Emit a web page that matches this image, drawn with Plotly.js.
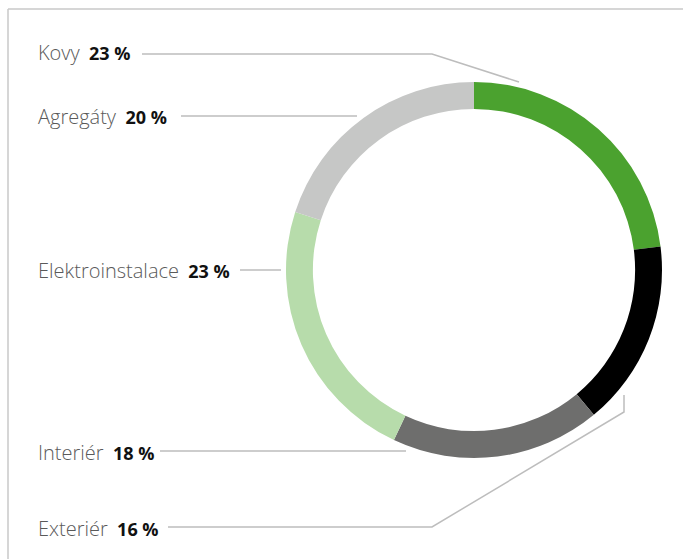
<!DOCTYPE html>
<html>
<head>
<meta charset="utf-8">
<script src="https://cdn.plot.ly/plotly-3.0.1.min.js"></script>
<style>html,body{margin:0;padding:0;background:#fff;}#chart{width:683px;height:559px;}</style>
</head>
<body>
<div id="chart"></div>
<script>
// Data (clockwise from 12 o'clock)
const categories = ["Kovy", "Exteriér", "Interiér", "Elektroinstalace", "Agregáty"];
const shares = [23, 16, 18, 23, 20];
const colors = ["#4ba22f", "#000000", "#6e6e6d", "#b7dcab", "#c6c7c6"];

// Label order top-to-bottom on the left side
const labelOrder = ["Kovy", "Agregáty", "Elektroinstalace", "Interiér", "Exteriér"];

const W = 683, H = 559;
const px = (x) => x / W;
const py = (y) => 1 - y / H;

// label vertical positions (px) and leader line paths (px)
const labelY = [53, 116, 270, 452, 528];
const leaders = [
  [[142, 54], [432, 54], [519, 82]],
  [[181, 116], [357, 116]],
  [[240, 270], [281, 270]],
  [[160, 451], [406, 451]],
  [[168, 527], [432, 527], [624, 412], [624, 395]]
];

const shapes = [];
// frame
shapes.push({type: 'line', xref: 'paper', yref: 'paper', x0: px(8), y0: py(9), x1: px(683), y1: py(9), line: {color: '#c8c8c8', width: 1.5}});
shapes.push({type: 'line', xref: 'paper', yref: 'paper', x0: px(8), y0: py(9), x1: px(8), y1: py(559), line: {color: '#c8c8c8', width: 1.5}});
leaders.forEach(path => {
  const d = path.map((p, i) => (i ? 'L' : 'M') + px(p[0]) + ',' + py(p[1])).join(' ');
  shapes.push({type: 'path', xref: 'paper', yref: 'paper', path: d, line: {color: '#bdbdbd', width: 1.5}});
});

const annotations = labelOrder.map((name, i) => {
  const v = shares[categories.indexOf(name)];
  return {
    xref: 'paper', yref: 'paper', x: px(36), y: py(labelY[i]),
    xanchor: 'left', yanchor: 'middle', showarrow: false,
    text: '<span style="color:#5a5a5a;font-weight:300;font-size:20px">' + name + '</span>&nbsp;&nbsp;<b>' + v + ' %</b>',
    font: {family: 'Open Sans, sans-serif', size: 18, color: '#111'}
  };
});

const trace = {
  type: 'pie',
  labels: categories,
  values: shares,
  sort: false,
  direction: 'clockwise',
  rotation: 0,
  hole: 0.857,
  textinfo: 'none',
  hoverinfo: 'none',
  marker: {colors: colors, line: {width: 0}},
  domain: {x: [286 / W, 662 / W], y: [1 - 458 / H, 1 - 82 / H]}
};

const layout = {
  width: W, height: H,
  margin: {l: 0, r: 0, t: 0, b: 0},
  paper_bgcolor: '#fff',
  showlegend: false,
  shapes: shapes,
  annotations: annotations
};

Plotly.newPlot('chart', [trace], layout, {displayModeBar: false, staticPlot: true});
</script>
</body>
</html>
